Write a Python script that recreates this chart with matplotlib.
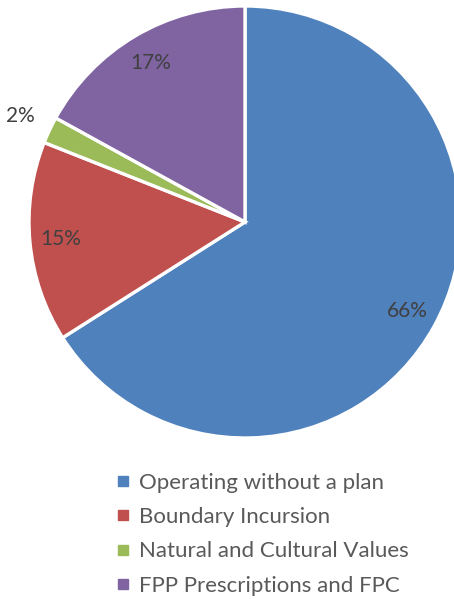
import matplotlib
matplotlib.use("Agg")
import matplotlib.pyplot as plt
from matplotlib.lines import Line2D
import numpy as np

categories = ["Operating without a plan", "Boundary Incursion",
              "Natural and Cultural Values", "FPP Prescriptions and FPC"]
values = [66, 15, 2, 17]
colors = ["#4F81BD", "#C0504D", "#9BBB59", "#8064A2"]

W, H = 454, 599
fig = plt.figure(figsize=(W / 100, H / 100), dpi=100)
ax = fig.add_axes([0, 0, 1, 1])

cx, cy, R = 245, H - 222, 216
wedges, texts, autotexts = ax.pie(
    values, colors=colors, startangle=90, counterclock=False,
    center=(cx, cy), radius=R, autopct="%d%%", pctdistance=0.855,
    wedgeprops=dict(edgecolor="white", linewidth=2.4),
    textprops=dict(color="#404040", fontsize=15, family="Lato"),
    frame=True)
ax.set_xlim(0, W)
ax.set_ylim(0, H)
ax.set_aspect("equal")
ax.axis("off")

# small slice label outside
w = wedges[2]
ang = np.deg2rad((w.theta1 + w.theta2) / 2)
autotexts[2].set_position((cx + 1.15 * R * np.cos(ang), cy + 1.15 * R * np.sin(ang)))

handles = [Line2D([0], [0], marker="s", linestyle="none", markersize=6.5,
                  markerfacecolor=c, markeredgecolor=c) for c in colors]
fig.legend(handles, categories, loc="upper left", bbox_to_anchor=(93 / W, 1 - 453 / H),
           frameon=False, handletextpad=0.25, labelspacing=0.64,
           handlelength=0.9, labelcolor="#595959", prop=dict(family="Lato", size=16))

fig.savefig("out.png", dpi=100)
